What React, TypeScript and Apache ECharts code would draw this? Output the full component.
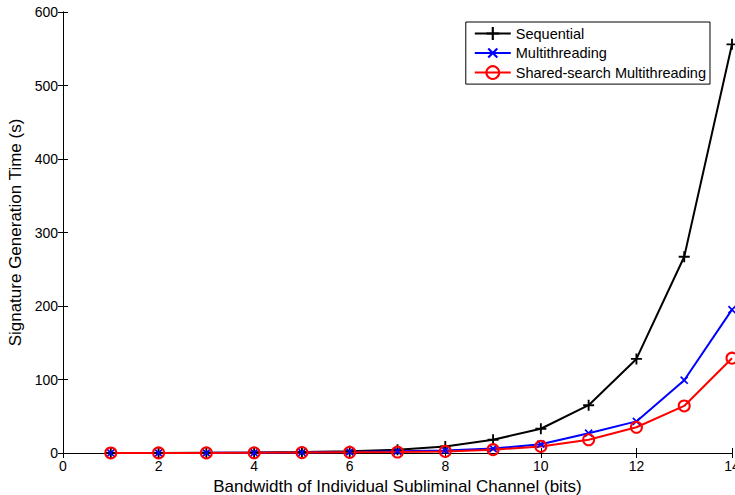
import React, { useEffect, useRef } from "react";
import * as echarts from "echarts";

const bits = [1, 2, 3, 4, 5, 6, 7, 8, 9, 10, 11, 12, 13, 14];
const sequential = [0.07, 0.15, 0.3, 0.6, 1.2, 2.3, 4.5, 9, 18, 33, 65, 128, 267, 556];
const multithreading = [0.05, 0.1, 0.2, 0.4, 0.8, 1.5, 2.5, 3.5, 6, 12, 27, 43, 99, 195];
const sharedSearch = [0.04, 0.08, 0.15, 0.3, 0.55, 0.9, 1.3, 2.2, 4.5, 9, 18, 35, 64, 129];
const seriesNames = ["Sequential", "Multithreading", "Shared-search Multithreading"];
const xTitle = "Bandwidth of Individual Subliminal Channel (bits)";
const yTitle = "Signature Generation Time (s)";

const PLUS = "path://M-1,-0.17H-0.17V-1H0.17V-0.17H1V0.17H0.17V1H-0.17V0.17H-1Z";
const FONT = "Liberation Sans, Arial, sans-serif";

export default function App() {
  const ref = useRef<HTMLDivElement>(null);
  useEffect(() => {
    if (!ref.current) return;
    const chart = echarts.init(ref.current, undefined, { renderer: "svg" });
    const pair = (arr: number[]) => bits.map((b, i) => [b, arr[i]]);
    const axisBase = {
      type: "value" as const,
      axisLine: { show: true, lineStyle: { color: "#000", width: 1 } },
      axisTick: { show: true, inside: true, length: 5, lineStyle: { color: "#000" } },
      splitLine: { show: false },
    };
    chart.setOption({
      animation: false,
      backgroundColor: "#fff",
      textStyle: { fontFamily: FONT },
      grid: {
        left: 63,
        right: 3,
        top: 12,
        bottom: 42,
        containLabel: false,
        outerBoundsMode: "none",
      },
      legend: {
        orient: "vertical",
        right: 25,
        top: 22,
        padding: [4, 4, 4, 8],
        itemGap: 3,
        itemWidth: 36,
        itemHeight: 16,
        borderColor: "#000",
        borderWidth: 1,
        backgroundColor: "#fff",
        textStyle: { fontFamily: FONT, fontSize: 14.5, color: "#000" },
        data: seriesNames,
      },
      xAxis: [
        {
          ...axisBase,
          min: 0,
          max: 14,
          interval: 2,
          position: "bottom",
          axisLabel: { color: "#000", fontSize: 14, fontFamily: FONT, margin: 6 },
          name: xTitle,
          nameLocation: "middle",
          nameGap: 19,
          nameTextStyle: { color: "#000", fontSize: 17, fontFamily: FONT },
        },
        {
          ...axisBase,
          min: 0,
          max: 14,
          interval: 2,
          position: "top",
          axisLabel: { show: false },
        },
      ],
      yAxis: [
        {
          ...axisBase,
          min: 0,
          max: 600,
          interval: 100,
          position: "left",
          axisLabel: { color: "#000", fontSize: 14, fontFamily: FONT, margin: 5 },
          name: yTitle,
          nameLocation: "middle",
          nameGap: 36,
          nameTextStyle: { color: "#000", fontSize: 17, fontFamily: FONT },
        },
        {
          ...axisBase,
          min: 0,
          max: 600,
          interval: 100,
          position: "right",
          axisLabel: { show: false },
        },
      ],
      series: [
        {
          name: seriesNames[0],
          type: "line",
          data: pair(sequential),
          symbol: PLUS,
          symbolSize: 11,
          lineStyle: { color: "#000", width: 2 },
          itemStyle: { color: "#000" },
        },
        {
          name: seriesNames[1],
          type: "line",
          data: pair(multithreading),
          symbol: PLUS,
          symbolRotate: 45,
          symbolSize: 10,
          lineStyle: { color: "#0000ff", width: 2 },
          itemStyle: { color: "#0000ff" },
        },
        {
          name: seriesNames[2],
          type: "line",
          data: pair(sharedSearch),
          symbol: "circle",
          symbolSize: 11,
          lineStyle: { color: "#ff0000", width: 2 },
          itemStyle: { color: "rgba(0,0,0,0)", borderColor: "#ff0000", borderWidth: 2 },
        },
      ],
    });
    return () => chart.dispose();
  }, []);
  return (
    <div
      ref={ref}
      style={{ position: "fixed", left: 0, top: 0, width: 735, height: 495 }}
    />
  );
}
